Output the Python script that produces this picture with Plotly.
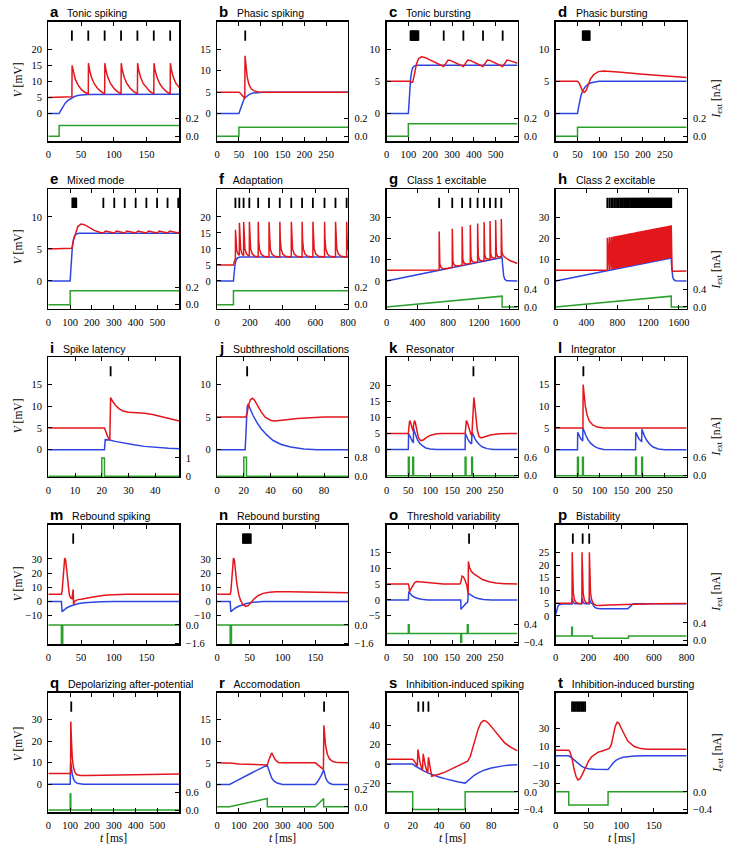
import plotly.graph_objects as go

W, H = 739, 849
RED, BLUE, GREEN = "#e3161c", "#2f45e0", "#2ca02c"

# ---------------- data (t [ms], value) ----------------
A_RED = [(0,5),(30,5),(34,5.05),(36,5.2),(36.3,15.0),(38,13.0),(41,10.8),(45,9.0),(50,7.6),(55,6.7),(61,6.1),
         (61.3,15.7),(63,13.5),(66,11.2),(70,9.3),(75,7.9),(80,6.9),(86,6.1),
         (86.3,15.7),(88,13.5),(91,11.2),(95,9.3),(100,7.9),(105,6.9),(111,6.1),
         (111.3,15.7),(113,13.5),(116,11.2),(120,9.3),(125,7.9),(130,6.9),(136,6.1),
         (136.3,15.7),(138,13.5),(141,11.2),(145,9.3),(150,7.9),(155,6.9),(161,6.1),
         (161.3,15.7),(163,13.5),(166,11.2),(170,9.3),(175,7.9),(180,6.9),(186,6.1),
         (186.3,15.7),(188,13.5),(191,11.2),(195,9.3),(200,8.1)]
A_BLUE = [(0,0),(16.5,0),(18,0.6),(20,1.4),(23,2.4),(26,3.3),(30,4.1),(35,4.8),(40,5.3),(45,5.6),(50,5.8),(60,5.95),(200,6.0)]
A_GREEN = [(0,0),(16.5,0),(16.5,0.12),(200,0.12)]
A_SPIKES = [36,61,86,111,136,161,186]

B_RED = [(0,5),(50,5),(53,4.8),(57,4.2),(61,3.6),(63.5,3.5),(64,13.5),(66,11.0),(69,8.5),(73,6.8),(78,5.8),(85,5.3),(95,5.05),(110,5),(300,5)]
B_BLUE = [(0,0),(50,0),(52,0.6),(55,1.6),(58,2.5),(61,3.2),(64,3.7),(68,4.1),(74,4.5),(82,4.8),(92,4.95),(105,5.0),(300,5.0)]
B_GREEN = [(0,0),(50,0),(50,0.1),(300,0.1)]
B_SPIKES = [64.5]

C_RED = [(0,5),(100,5),(110,5),(115,4.8),(120,4.9),(125,5.6),(130,6.7),(137,7.7),(147,8.5),(160,8.8),(175,8.7),(200,8.3),
         (230,7.8),(262,7.3),(270,7.7),(282,8.3),(295,8.2),(320,7.8),(352,7.3),(360,7.7),(372,8.3),(385,8.2),(410,7.8),
         (442,7.3),(450,7.7),(462,8.3),(475,8.2),(500,7.8),(532,7.3),(540,7.7),(552,8.3),(565,8.2),(590,7.9),(600,7.8)]
C_BLUE = [(0,0),(100,0),(103,1.5),(106,3.5),(110,5.3),(115,6.5),(120,7.1),(128,7.4),(140,7.5),(600,7.5)]
C_GREEN = [(0,0),(100,0),(100,0.14),(600,0.14)]
C_SPIKES = [110,113,116,119,122,125,128,131,134,137,140,143,146,262,352,442,532]

D_RED = [(0,5),(50,5),(54,4.7),(58,4.0),(62,3.4),(66,3.3),(70,3.6),(75,4.5),(80,5.4),(88,6.1),(98,6.5),(110,6.6),
         (125,6.55),(150,6.4),(200,6.1),(250,5.85),(300,5.6)]
D_BLUE = [(0,0),(50,0),(52,0.8),(55,1.9),(58,2.8),(62,3.5),(67,4.1),(73,4.5),(80,4.75),(90,4.9),(100,5.0),(300,5.0)]
D_GREEN = [(0,0),(50,0),(50,0.1),(300,0.1)]
D_SPIKES = [62,64,66,68,70,72,74,76,78]

E_RED = [(0,5),(100,5),(108,5.1),(115,6.3),(125,7.6),(135,8.5),(150,8.9),(165,8.8),(185,8.4),(210,7.9),(235,7.6),
         (252,7.5),(262,7.8),(275,7.7),(290,7.55),(302,7.5),(312,7.8),(325,7.7),(340,7.55),(350,7.5),(360,7.8),
         (373,7.7),(390,7.55),(400,7.5),(410,7.8),(423,7.7),(440,7.55),(449,7.5),(459,7.8),(472,7.7),(490,7.55),
         (498,7.5),(508,7.8),(521,7.7),(538,7.55),(546,7.5),(556,7.8),(569,7.7),(587,7.55),(595,7.5),(600,7.7)]
E_BLUE = [(0,0),(100,0),(103,1.6),(106,3.6),(110,5.3),(115,6.5),(120,7.0),(128,7.35),(140,7.45),(600,7.45)]
E_GREEN = [(0,0),(100,0),(100,0.16),(600,0.16)]
E_SPIKES = [110,113,116,119,122,125,128,252,302,350,400,449,498,546,595]

F_RED = [(0,5),(100,5),(104,5.8),(108,6.6),(112,7.0),(112.5,16.0),(115,12.0),(120,9.6),(128,8.4),(136,8.0),
         (136.5,18.2),(139,13.0),(144,10.0),(152,8.5),(162,7.9),
         (162.5,18.4),(165,13.0),(170,10.0),(180,8.4),(197,7.7),
         (197.5,18.5),(200,13.0),(205,10.0),(215,8.4),(232,7.7),(251,7.5),
         (251.5,18.5),(254,13.0),(259,10.0),(269,8.4),(286,7.7),(317,7.45),
         (317.5,18.5),(320,13.0),(325,10.0),(335,8.4),(352,7.7),(383,7.45),
         (383.5,18.5),(386,13.0),(391,10.0),(401,8.4),(418,7.7),(453,7.45),
         (453.5,18.5),(456,13.0),(461,10.0),(471,8.4),(488,7.7),(519,7.45),
         (519.5,18.5),(522,13.0),(527,10.0),(537,8.4),(554,7.7),(585,7.45),
         (585.5,18.5),(588,13.0),(593,10.0),(603,8.4),(620,7.7),(656,7.45),
         (656.5,18.5),(659,13.0),(664,10.0),(674,8.4),(691,7.7),(723,7.45),
         (723.5,18.5),(726,13.0),(731,10.0),(741,8.4),(758,7.7),(791,7.45),
         (791.5,18.5),(794,13.0),(799,10.0),(800,9.7)]
F_BLUE = [(0,0),(100,0),(103,1.7),(106,3.6),(110,5.2),(115,6.3),(120,6.9),(130,7.3),(145,7.45),(800,7.45)]
F_GREEN = [(0,0),(100,0),(100,0.16),(800,0.16)]
F_SPIKES = [112,136,162,197,251,317,383,453,519,585,656,723,791]

G_RED = [(0,5),(670,5),(683,5.1),(683.5,23.2),(686,11),(692,8),(707,6.3),(740,5.7),(800,5.95),(853,6.5),
         (853.5,24.5),(856,12.3),(862,9.3),(877,7.5),(910,7.0),(981,7.4),
         (981.5,25.5),(984,13.2),(990,10.2),(1005,8.4),(1040,7.9),(1087,8.2),
         (1087.5,26.3),(1090,14.0),(1096,11.0),(1111,9.2),(1145,8.7),(1182,8.9),
         (1182.5,27.0),(1185,14.7),(1191,11.7),(1206,9.9),(1240,9.4),(1266,9.5),
         (1266.5,27.6),(1269,15.3),(1275,12.3),(1290,10.5),(1343,10.0),
         (1343.5,28.1),(1346,15.8),(1352,12.8),(1367,11.0),(1416,10.6),
         (1416.5,28.6),(1419,16.3),(1425,13.3),(1440,11.5),(1489,11.1),
         (1489.5,29.1),(1492,16.8),(1498,13.8),(1510,12.0),(1540,11.0),(1600,9.6),(1650,8.8),(1700,8.2)]
G_BLUE = [(0,0),(1500,11.0),(1505,8),(1512,5),(1520,2.5),(1535,0.8),(1560,0.1),(1700,0)]
G_GREEN = [(0,0),(1500,0.24),(1500,0),(1700,0)]
G_SPIKES = [683,853,981,1087,1182,1266,1343,1416,1489]

H_SPIKE_T = [670,696,720,742,763,783,802,820,838,855,872,888,904,920,935,950,965,980,994,1008,
             1022,1036,1050,1063,1076,1089,1102,1115,1128,1141,1154,1166,1178,1190,1202,1214,1226,1238,1250,1262,
             1274,1286,1298,1310,1322,1334,1346,1358,1370,1382,1394,1406,1418,1430,1442,1454,1466,1478,1490,1500]
H_SPIKE_PEAK = [20.3,20.5,20.65,20.8,20.95,21.1,21.2,21.35,21.5,21.6,21.7,21.8,21.95,22.05,22.15,22.25,22.35,22.45,22.55,22.65,
                22.75,22.85,22.95,23.05,23.15,23.25,23.3,23.4,23.5,23.6,23.7,23.75,23.85,23.95,24.0,24.1,24.2,24.3,24.35,24.45,
                24.5,24.6,24.7,24.8,24.85,24.95,25.05,25.1,25.2,25.3,25.35,25.45,25.55,25.6,25.7,25.8,25.9,25.95,26.05,26.1]
H_SPIKE_TROUGH = [5.0,5.2,5.35,5.5,5.65,5.8,5.9,6.05,6.2,6.3,6.4,6.5,6.65,6.75,6.85,6.95,7.05,7.15,7.25,7.35,
                  7.45,7.55,7.65,7.75,7.85,7.95,8.0,8.1,8.2,8.3,8.4,8.45,8.55,8.65,8.7,8.8,8.9,9.0,9.05,9.15,
                  9.2,9.3,9.4,9.5,9.55,9.65,9.75,9.8,9.9,10.0,10.05,10.15,10.25,10.3,10.4,10.5,10.6,10.65,10.75,10.8]
H_RED_PRE = [(0,5),(670,5)]
H_RED_POST = [(1503,8.0),(1510,5.0),(1520,4.6),(1700,4.7)]
H_BLUE = [(0,0),(1500,10.8),(1504,7.5),(1510,4.5),(1518,2.2),(1530,0.8),(1550,0.15),(1700,0)]
H_GREEN = [(0,0),(1500,0.24),(1500,0),(1700,0)]

I_RED = [(0,5),(21,5),(21.5,4.2),(22.2,3),(23,2.2),(23.3,12),(24,11.2),(25,10.3),(26.5,9.4),(28,8.9),(30,8.6),
         (33,8.5),(36,8.4),(39,8.1),(42,7.6),(45,7.1),(49,6.6)]
I_BLUE = [(0,0),(21,0),(21.3,2.3),(23,2.2),(25,1.9),(28,1.5),(32,1.1),(36,0.75),(40,0.5),(45,0.3),(49,0.2)]
I_GREEN = [(0,0),(20,0),(20,1.0),(21,1.0),(21,0),(49,0)]
I_SPIKES = [23.3]

J_RED = [(0,5),(21.5,5),(22.5,5.6),(23.5,6.8),(25,7.7),(26.5,7.9),(28,7.6),(30,6.9),(33,5.8),(36,5.0),(40,4.5),
         (43,4.4),(47,4.45),(52,4.6),(60,4.8),(70,4.95),(80,5.0),(98,5.0)]
J_BLUE = [(0,0),(21,0),(21.5,2),(22,4.5),(22.5,6.5),(23.2,7.0),(25,6.1),(27,5.2),(30,4.1),(33,3.2),(37,2.3),
          (42,1.4),(48,0.8),(55,0.4),(65,0.1),(75,0.0),(98,0)]
J_GREEN = [(0,0),(20,0),(20,0.8),(22,0.8),(22,0),(98,0)]
J_SPIKES = [22.5]

K_RED = [(0,5),(50,5),(51,6.5),(53,9.0),(55,8.5),(58,6.6),(60.5,5.8),(62,7.5),(64,9.0),(66,8.4),(69,6.2),(73,3.7),
         (78,2.8),(84,3.0),(92,3.8),(100,4.4),(112,4.85),(125,5),(180,5),(181,6.5),(183,9.0),(185,8.5),(189,6.4),
         (193,4.8),(195.5,4.5),(197,8),(199,14),(200,16.2),(202,14),(205,9.5),(208,6),(212,4.0),(217,3.6),(225,4.0),
         (240,4.6),(260,4.95),(300,5)]
K_BLUE = [(0,0),(50,0),(50.5,5.0),(53,4.2),(56,3.2),(60,2.4),(61.5,2.3),(62,6.7),(64,5.6),(67,4.3),(71,3.0),(76,2.0),
          (82,1.2),(90,0.5),(100,0.2),(115,0),(180,0),(180.5,5.0),(183,4.2),(187,3.0),(192,2.1),(195,1.8),(195.5,5.5),
          (198,4.6),(202,3.5),(207,2.4),(213,1.5),(220,0.8),(230,0.3),(245,0),(300,0)]
K_GREEN = [(0,0),(50,0),(50,0.6),(52,0.6),(52,0),(60,0),(60,0.6),(62,0.6),(62,0),(180,0),(180,0.6),(182,0.6),(182,0),
           (195,0),(195,0.6),(197,0.6),(197,0),(300,0)]
K_SPIKES = [199]

L_RED = [(0,5),(62.5,5),(63,15),(65,12.5),(68,10),(72,8),(77,6.6),(85,5.7),(95,5.2),(110,5),(300,5)]
L_BLUE = [(0,0),(50,0),(50.5,4),(53,3.4),(57,2.6),(61,2.1),(62,2.0),(62.5,5),(65,4.3),(69,3.3),(74,2.3),(80,1.5),
          (88,0.8),(98,0.3),(110,0.05),(183,0),(183.5,4),(186,3.4),(190,2.6),(195,2.0),(197,1.9),(197.5,4.7),(200,4.0),
          (204,3.0),(209,2.1),(215,1.3),(223,0.6),(235,0.15),(250,0),(300,0)]
L_GREEN = [(0,0),(50,0),(50,0.6),(52,0.6),(52,0),(61.5,0),(61.5,0.6),(63.5,0.6),(63.5,0),(183,0),(183,0.6),(185,0.6),
           (185,0),(197,0),(197,0.6),(199,0.6),(199,0),(300,0)]
L_SPIKES = [63.5]

M_RED = [(0,5),(20,5),(21,7),(23,20),(25,30.5),(26.5,29),(28,22),(30,12),(32,5),(34,2.5),(36,2),(37,5),(38,8.5),
         (38.5,-2),(41,0.5),(45,1.3),(50,1.5),(60,2.5),(70,3.4),(80,4.1),(90,4.6),(100,4.85),(120,5),(200,5)]
M_BLUE = [(0,0),(20,0),(21,-7.2),(24,-6),(28,-4.6),(33,-3.4),(38,-2.5),(45,-1.6),(55,-0.9),(65,-0.5),(80,-0.2),(100,0),(200,0)]
M_GREEN = [(0,0),(20,0),(20,-1.6),(22,-1.6),(22,0),(200,0)]
M_SPIKES = [38]

N_RED = [(0,5),(20,5),(21,7),(23,20),(25,30.5),(26.5,29),(28,22),(30,13),(33,5),(36,0.5),(40,-2.5),(44,-3.5),(48,-2.8),
         (52,-0.5),(57,2),(63,4.2),(70,5.7),(80,6.5),(90,6.8),(110,6.8),(140,6.6),(170,6.3),(200,6.1)]
N_BLUE = [(0,0),(20,0),(21,-7.2),(24,-6),(28,-4.6),(33,-3.4),(38,-2.4),(45,-1.4),(52,-0.7),(60,-0.3),(70,-0.1),(85,0),(200,0)]
N_GREEN = [(0,0),(20,0),(20,-1.6),(22,-1.6),(22,0),(200,0)]
N_SPIKES = [39.5,41,42.5,44,45.5,47,48.5,50,51.5]

O_RED = [(0,5),(50,5),(51,4.5),(53,2.6),(56,3.5),(60,4.6),(65,5.5),(70,5.8),(78,5.7),(90,5.35),(110,5.1),(130,5),
         (168,5),(170,5.5),(173,7.5),(176,7.3),(180,6.2),(184,4.5),(187,1.8),(187.5,12.1),(190,10.3),(194,9),(200,8.2),
         (210,7.2),(220,6.4),(235,5.7),(250,5.3),(270,5.1),(300,5)]
O_BLUE = [(0,0),(50,0),(51,2.6),(54,2.0),(58,1.4),(63,0.9),(70,0.5),(80,0.2),(95,0),(170,0),(170.5,-3),(173,-2.5),
          (177,-1.8),(182,-1.1),(186,-0.7),(187,2.1),(190,1.8),(195,1.3),(202,0.8),(210,0.45),(222,0.15),(240,0),(300,0)]
O_GREEN = [(0,0),(50,0),(50,0.4),(52,0.4),(52,0),(170,0),(170,-0.4),(172,-0.4),(172,0),(185,0),(185,0.4),(187,0.4),
           (187,0),(300,0)]
O_SPIKES = [189]

P_RED = [(0,5),(100,5),(101,25),(104,15),(108,9),(115,6.3),(125,5.3),(140,4.9),(160,4.9),(161,25),(164,15),(168,9),
         (175,6.3),(185,5.3),(200,4.9),(205,4.9),(206,25),(209,15),(213,9),(220,6.3),(230,4.8),(245,4.2),(270,4.1),
         (320,4.3),(400,4.5),(500,4.7),(600,4.8),(800,4.85)]
P_BLUE = [(0,0.5),(3,1.5),(8,3),(15,4),(25,4.5),(40,4.7),(100,4.7),(101,7),(105,5.8),(112,5),(120,4.8),(160,4.8),
          (161,7),(165,5.8),(172,5),(180,4.8),(205,4.8),(206,7),(210,5.8),(217,5),(225,4.8),(232,4),(240,3.3),
          (250,3.0),(270,2.8),(440,2.8),(450,3.5),(460,4.2),(470,4.6),(480,4.8),(800,4.8)]
P_GREEN = [(0,0.1),(98,0.1),(98,0.3),(102,0.3),(102,0.1),(225,0.1),(225,0.05),(445,0.05),(445,0.1),(800,0.1)]
P_SPIKES = [105,165,205]

Q_RED = [(0,5),(100,5),(102,6),(103,29.2),(106,20),(110,12),(115,8),(122,5.5),(130,4.5),(145,4.1),(170,4.0),
         (250,4.2),(350,4.4),(450,4.6),(600,4.75)]
Q_BLUE = [(0,0),(100,0),(102.5,10.3),(105,7.5),(110,4.5),(115,2.6),(122,1.2),(132,0.4),(145,0.1),(160,0),(600,0)]
Q_GREEN = [(0,0),(100,0),(100,0.55),(103,0.55),(103,0),(600,0)]
Q_SPIKES = [105]

R_RED = [(0,5),(55,5),(70,4.9),(100,4.75),(150,4.6),(200,4.5),(230,4.5),(238,5.8),(245,7.0),(250,7.3),(256,6.8),
         (265,5.8),(280,5.1),(300,5.0),(450,5.0),(460,4.6),(475,4.1),(487,3.5),(489,13.7),(492,11.5),(497,9),
         (505,7),(515,5.9),(530,5.3),(550,5.05),(600,5.0)]
R_BLUE = [(0,0),(57,0),(80,0.6),(120,1.7),(160,2.7),(200,3.7),(230,4.5),(235,3.6),(242,2.4),(250,1.5),(260,0.8),
          (275,0.3),(300,0),(450,0),(460,0.6),(470,1.4),(480,2.3),(488,3.4),(492,2.4),(498,1.4),(505,0.7),(515,0.25),
          (530,0),(600,0)]
R_GREEN = [(0,0),(57,0),(230,0.095),(230,0),(450,0),(488,0.095),(488,0),(600,0)]
R_SPIKES = [490]

S_RED = [(0,5),(20,5),(21,3.5),(22.5,0),(23.5,-2),(24,15),(24.6,8),(25.5,2),(27,-5.5),(27.5,-6),(28,10.5),(28.6,5),
         (29.5,-1),(31,-8),(31.5,-9),(32,7),(32.6,2),(33.5,-8),(34.5,-12.5),(37,-11.5),(40,-10.5),(45,-8),(50,-5),
         (55,-2),(60,1.5),(62,3),(64,8),(66,17),(68,27),(70,36),(72,42),(74,44.5),(76,44),(78,41.5),(82,35),(86,28),
         (90,22),(95,17),(100,13.5)]
S_BLUE = [(0,0),(20,0),(22,-2),(25,-4.5),(28,-6.8),(32,-9.3),(36,-11.5),(40,-13.3),(45,-15.2),(50,-16.9),(55,-18.3),
          (60,-19.5),(62,-17),(64,-14.5),(67,-11.5),(70,-9),(75,-6),(80,-4),(85,-2.6),(90,-1.6),(95,-1),(100,-0.6)]
S_GREEN = [(0,0),(20,0),(20,-0.4),(60,-0.4),(60,0),(100,0)]
S_SPIKES = [24.3,28,32]

T_RED = [(0,6),(20,6),(22,4),(25,-3),(28,-14),(31,-22),(34,-26),(37,-25),(40,-21),(45,-13),(50,-6),(55,-1),(60,2),
         (65,4),(70,5),(75,6),(80,7),(82,8),(85,12),(88,22),(91,32),(94,36.4),(97,35),(100,30),(105,22),(110,16),
         (120,10),(130,7.8),(140,7.2),(160,7.0),(200,7.0)]
T_BLUE = [(0,0),(20,0),(23,-1.5),(27,-4),(31,-6.5),(36,-9.5),(40,-11.3),(45,-13),(50,-14),(60,-14.6),(70,-14.8),
          (80,-14.8),(82,-13),(85,-10),(88,-7.5),(92,-5),(97,-3),(103,-1.6),(110,-0.8),(120,-0.3),(140,0),(200,0)]
T_GREEN = [(0,0),(20,0),(20,-0.3),(80,-0.3),(80,0),(200,0)]
T_SPIKES = [25,27,29,31,33,35,37,39,41,43,45]

# h red sawtooth assembled from the read spike times / peaks / troughs
H_RED = list(H_RED_PRE)
for t, pk, tr in zip(H_SPIKE_T, H_SPIKE_PEAK, H_SPIKE_TROUGH):
    H_RED += [(t, tr), (t, pk)]
H_RED += H_RED_POST
H_SPIKES = H_SPIKE_T

T50_250 = [0, 50, 100, 150, 200, 250]
T100_500 = [0, 100, 200, 300, 400, 500]
PANELS = [
    ("a", "Tonic spiking", A_RED, A_BLUE, A_GREEN, A_SPIKES, (0, 200), (-8.7, 28.7), (-0.055, 1.263), [0, 50, 100, 150], [0, 5, 10, 15, 20], [0, 0.2], ["0.0", "0.2"]),
    ("b", "Phasic spiking", B_RED, B_BLUE, B_GREEN, B_SPIKES, (0, 300), (-6.5, 21.5), (-0.055, 1.263), T50_250, [0, 5, 10, 15], [0, 0.2], ["0.0", "0.2"]),
    ("c", "Tonic bursting", C_RED, C_BLUE, C_GREEN, C_SPIKES, (0, 600), (-4.3, 14.25), (-0.055, 1.263), T100_500, [0, 5, 10], [0, 0.2], ["0.0", "0.2"]),
    ("d", "Phasic bursting", D_RED, D_BLUE, D_GREEN, D_SPIKES, (0, 300), (-4.3, 14.25), (-0.055, 1.263), T50_250, [0, 5, 10], [0, 0.2], ["0.0", "0.2"]),
    ("e", "Mixed mode", E_RED, E_BLUE, E_GREEN, E_SPIKES, (0, 600), (-4.35, 14.4), (-0.045, 1.32), T100_500, [0, 5, 10], [0, 0.2], ["0.0", "0.2"]),
    ("f", "Adaptation", F_RED, F_BLUE, F_GREEN, F_SPIKES, (0, 800), (-8.7, 28.8), (-0.045, 1.32), [0, 200, 400, 600, 800], [0, 5, 10, 15, 20], [0, 0.2], ["0.0", "0.2"]),
    ("g", "Class 1 excitable", G_RED, G_BLUE, G_GREEN, G_SPIKES, (0, 1700), (-13, 43.2), (-0.04, 2.64), [0, 400, 800, 1200, 1600], [0, 10, 20, 30], [0, 0.4], ["0.0", "0.4"]),
    ("h", "Class 2 excitable", H_RED, H_BLUE, H_GREEN, H_SPIKES, (0, 1700), (-13, 43.2), (-0.04, 2.64), [0, 400, 800, 1200, 1600], [0, 10, 20, 30], [0, 0.4], ["0.0", "0.4"]),
    ("i", "Spike latency", I_RED, I_BLUE, I_GREEN, I_SPIKES, (0, 49), (-6.3, 21.3), (-0.04, 6.5), [0, 10, 20, 30, 40], [0, 5, 10, 15], [0, 1], ["0", "1"]),
    ("j", "Subthreshold oscillations", J_RED, J_BLUE, J_GREEN, J_SPIKES, (0, 98), (-4.2, 14.2), (-0.03, 5.0), [0, 20, 40, 60, 80], [0, 5, 10], [0, 0.8], ["0.0", "0.8"]),
    ("k", "Resonator", K_RED, K_BLUE, K_GREEN, K_SPIKES, (0, 300), (-8.5, 28.7), (-0.04, 3.87), T50_250, [0, 5, 10, 15, 20], [0, 0.6], ["0.0", "0.6"]),
    ("l", "Integrator", L_RED, L_BLUE, L_GREEN, L_SPIKES, (0, 300), (-6.3, 21.3), (-0.04, 3.87), T50_250, [0, 5, 10, 15], [0, 0.6], ["0.0", "0.6"]),
    ("m", "Rebound spiking", M_RED, M_BLUE, M_GREEN, M_SPIKES, (0, 200), (-30.2, 54.1), (-1.71, 8.83), [0, 50, 100, 150], [-10, 0, 10, 20, 30], [-1.6, 0], ["\u22121.6", "0.0"]),
    ("n", "Rebound bursting", N_RED, N_BLUE, N_GREEN, N_SPIKES, (0, 200), (-30.2, 54.1), (-1.71, 8.83), [0, 50, 100, 150], [-10, 0, 10, 20, 30], [-1.6, 0], ["\u22121.6", "0.0"]),
    ("o", "Threshold variability", O_RED, O_BLUE, O_GREEN, O_SPIKES, (0, 300), (-14, 23.7), (-0.5, 4.98), T50_250, [-5, 0, 5, 10, 15], [-0.4, 0.4], ["\u22120.4", "0.4"]),
    ("p", "Bistability", P_RED, P_BLUE, P_GREEN, P_SPIKES, (0, 800), (-11.2, 35.9), (-0.09, 2.65), [0, 200, 400, 600, 800], [0, 5, 10, 15, 20, 25], [0, 0.4], ["0.0", "0.4"]),
    ("q", "Depolarizing after-potential", Q_RED, Q_BLUE, Q_GREEN, Q_SPIKES, (0, 600), (-13.1, 42.6), (-0.078, 4.0), T100_500, [0, 10, 20, 30], [0, 0.6], ["0.0", "0.6"]),
    ("r", "Accomodation", R_RED, R_BLUE, R_GREEN, R_SPIKES, (0, 600), (-6.5, 21.3), (-0.063, 1.3), T100_500, [0, 5, 10, 15], [0, 0.2], ["0.0", "0.2"]),
    ("s", "Inhibition-induced spiking", S_RED, S_BLUE, S_GREEN, S_SPIKES, (0, 100), (-49.5, 73.2), (-0.468, 2.26), [0, 20, 40, 60, 80], [-20, 0, 20, 40], [-0.4, 0], ["\u22120.4", "0.0"]),
    ("t", "Inhibition-induced bursting", T_RED, T_BLUE, T_GREEN, T_SPIKES, (0, 200), (-61, 68.2), (-0.468, 2.26), [0, 50, 100, 150], [-30, -10, 10, 30], [-0.4, 0], ["\u22120.4", "0.0"]),
]

# ---------------- layout geometry ----------------
COL_L = [46, 217.3, 389.3, 561]
PW = 133
ROW_T = [21.7, 190, 359.3, 527.7, 696.7]
PH = 120.5
MARK_LO, MARK_HI = 0.84, 0.925
V_LABEL_Y = [80, 248, 418, 587, 748]
I_LABEL_Y = [100, 272, 440, 596, 758]

TICKFONT = dict(family="Liberation Serif, serif", size=10.5, color="black")
AXLINE = dict(showline=True, linecolor="black", linewidth=1.3, ticks="inside", ticklen=4, tickwidth=1,
              tickcolor="black", showgrid=False, zeroline=False, tickfont=TICKFONT, fixedrange=True)


def minus(v):
    s = f"{v:g}"
    return s.replace("-", "\u2212")


def unzip(pairs):
    return [p[0] for p in pairs], [p[1] for p in pairs]


def aname(prefix, n):
    return f"{prefix}axis" if n == 1 else f"{prefix}axis{n}"


def ref(prefix, n):
    return prefix if n == 1 else f"{prefix}{n}"


fig = go.Figure()
lay = {}
ann = []
for k, (letter, title, red, blue, green, spikes, xr, vr, ir, xt, vt, it, itl) in enumerate(PANELS):
    r, c = divmod(k, 4)
    left, top = COL_L[c], ROW_T[r]
    xd = [left / W, (left + PW) / W]
    yd = [1 - (top + PH) / H, 1 - top / H]
    xn, yv, yi, ym = k + 1, 3 * k + 1, 3 * k + 2, 3 * k + 3

    lay[aname("x", xn)] = dict(domain=xd, range=list(xr), anchor=ref("y", yv), mirror="ticks",
                               tickvals=xt, ticktext=[minus(v) for v in xt], ticklabelstandoff=3, **AXLINE)
    lay[aname("y", yv)] = dict(domain=yd, range=list(vr), anchor=ref("x", xn), side="left", mirror=False,
                               tickvals=vt, ticktext=[minus(v) for v in vt], ticklabelstandoff=3, **AXLINE)
    lay[aname("y", yi)] = dict(range=list(ir), anchor=ref("x", xn), overlaying=ref("y", yv), side="right",
                               tickvals=it, ticktext=itl, ticklabelstandoff=3, **AXLINE)
    lay[aname("y", ym)] = dict(range=[0, 1], overlaying=ref("y", yv), anchor=ref("x", xn), visible=False,
                               fixedrange=True)

    bx, by = unzip(blue)
    rx, ry = unzip(red)
    gx, gy = unzip(green)
    fig.add_trace(go.Scatter(x=bx, y=by, xaxis=ref("x", xn), yaxis=ref("y", yv), mode="lines",
                             line=dict(color=BLUE, width=1.5), hoverinfo="skip"))
    fig.add_trace(go.Scatter(x=rx, y=ry, xaxis=ref("x", xn), yaxis=ref("y", yv), mode="lines",
                             line=dict(color=RED, width=1.5), hoverinfo="skip"))
    fig.add_trace(go.Scatter(x=gx, y=gy, xaxis=ref("x", xn), yaxis=ref("y", yi), mode="lines",
                             line=dict(color=GREEN, width=1.5), hoverinfo="skip"))
    mx, my = [], []
    for t in spikes:
        mx += [t, t, None]
        my += [MARK_LO, MARK_HI, None]
    fig.add_trace(go.Scatter(x=mx, y=my, xaxis=ref("x", xn), yaxis=ref("y", ym), mode="lines",
                             line=dict(color="black", width=1.8), hoverinfo="skip"))

    ann.append(dict(xref="paper", yref="paper", x=left / W, y=1 - (top - 10) / H, xanchor="left",
                    yanchor="middle", showarrow=False,
                    text=f"<span style='font-size:15px'><b>{letter}</b></span>\u00a0\u00a0\u00a0{title}",
                    font=dict(family="Liberation Sans, Arial, sans-serif", size=10.5, color="black")))
    if c == 0:
        ann.append(dict(xref="paper", yref="paper", x=15 / W, y=1 - V_LABEL_Y[r] / H, xanchor="center",
                        yanchor="middle", textangle=-90, showarrow=False, text="<i>V</i> [mV]",
                        font=dict(family="Liberation Serif, serif", size=11.5, color="black")))
    if c == 3:
        ann.append(dict(xref="paper", yref="paper", x=725 / W, y=1 - I_LABEL_Y[r] / H, xanchor="center",
                        yanchor="middle", textangle=-90, showarrow=False,
                        text="<i>I</i><sub>ext</sub> [nA]",
                        font=dict(family="Liberation Serif, serif", size=11.5, color="black")))
    if r == 4:
        ann.append(dict(xref="paper", yref="paper", x=(left + PW / 2) / W, y=1 - 843 / H, xanchor="center",
                        yanchor="middle", showarrow=False, text="<i>t</i> [ms]",
                        font=dict(family="Liberation Serif, serif", size=11.5, color="black")))

fig.update_layout(width=W, height=H, margin=dict(l=0, r=0, t=0, b=0), paper_bgcolor="white",
                  plot_bgcolor="white", showlegend=False, annotations=ann, **lay)
fig.write_html("out.html", config={"displayModeBar": False, "staticPlot": True},
               post_script="document.body.style.margin='0';")
